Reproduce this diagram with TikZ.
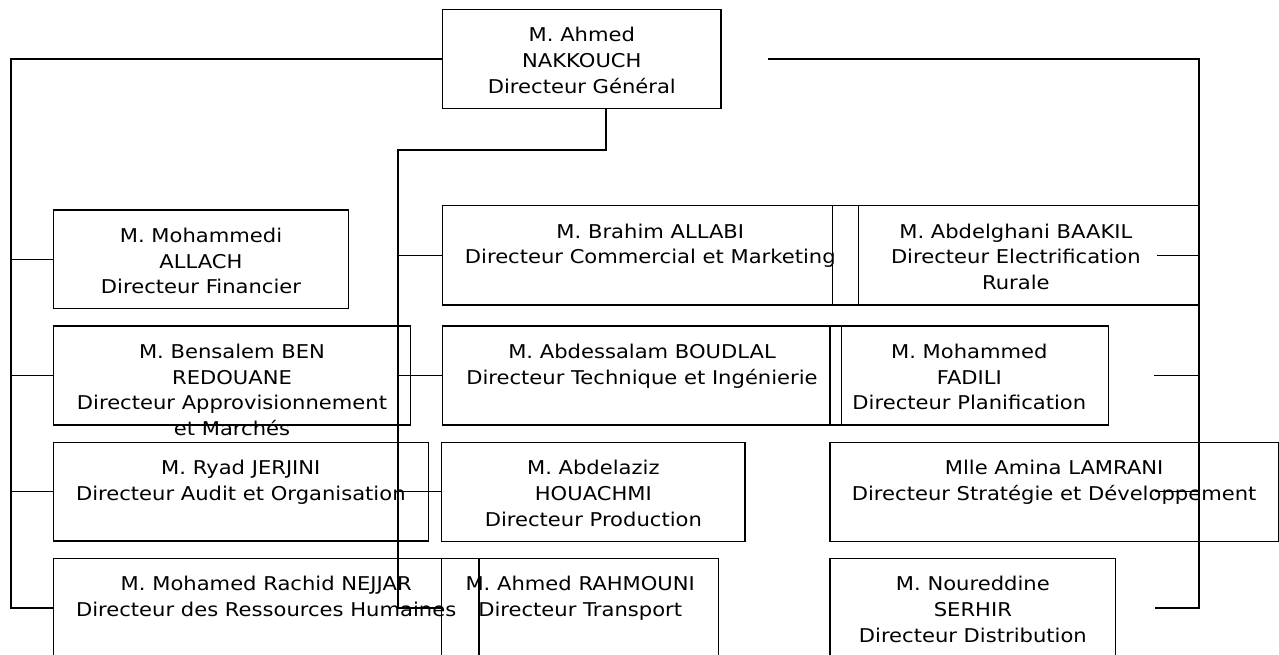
\documentclass[tikz,border=0pt]{standalone}
\usepackage{fontspec}
\newfontfamily\vfont{DejaVu Sans}[FakeStretch=1.11]
\newcommand\fst{\rule{0pt}{15pt}}
\newcommand\orgbox[6]{%
  \node[box,minimum width={(#4-#2)*1pt},minimum height={(#5-#3)*1pt}] (#1) at (#2,#3) {};
  \node[txt] (#1t) at ({(#2+#4)/2},{#3+17.5}) {\fst #6};}
\begin{document}
\begin{tikzpicture}[x=1pt,y=-1pt,
  box/.style={draw,line width=1.2pt,inner sep=0pt,outer sep=0pt,anchor=north west},
  txt/.style={inner sep=0pt,outer sep=0pt,anchor=north,align=center,font=\vfont\fontsize{19}{25.7}\selectfont},
  trunk/.style={line width=2pt},
  stub/.style={line width=1.3pt}]
\useasboundingbox (0,0) rectangle (1279,655);
\clip (0,0) rectangle (1279,655);
% boxes
\orgbox{top}{442.7}{9.3}{721}{108.3}{M. Ahmed\\NAKKOUCH\\Directeur Général}
\orgbox{fin}{53.3}{210}{348.7}{308.7}{M. Mohammedi\\ALLACH\\Directeur Financier}
\orgbox{ben}{53.3}{326}{410.7}{425}{M. Bensalem BEN\\REDOUANE\\Directeur Approvisionnement\\et Marchés}
\orgbox{jer}{53.3}{442.3}{428.3}{541}{M. Ryad JERJINI\\Directeur Audit et Organisation}
\orgbox{nej}{53.3}{558.3}{479}{657.3}{M. Mohamed Rachid NEJJAR\\Directeur des Ressources Humaines}
\orgbox{com}{442.3}{205.7}{858.3}{305}{M. Brahim ALLABI\\Directeur Commercial et Marketing}
\orgbox{tec}{442.3}{326}{841.7}{425}{M. Abdessalam BOUDLAL\\Directeur Technique et Ingénierie}
\orgbox{pro}{441.7}{442.3}{745}{541.3}{M. Abdelaziz\\HOUACHMI\\Directeur Production}
\orgbox{tra}{441.7}{558.3}{718.7}{657.3}{M. Ahmed RAHMOUNI\\Directeur Transport}
\orgbox{baa}{832.3}{205.7}{1199.3}{305}{M. Abdelghani BAAKIL\\Directeur Electrification\\Rurale}
\orgbox{fad}{830}{326}{1108.7}{425}{M. Mohammed\\FADILI\\Directeur Planification}
\orgbox{lam}{830}{442.3}{1278.3}{541.3}{Mlle Amina LAMRANI\\Directeur Stratégie et Développement}
\orgbox{ser}{830}{558.3}{1115.7}{657.3}{M. Noureddine\\SERHIR\\Directeur Distribution}
% left trunk
\draw[trunk] (top.west) -| (11,0 |- nej.west) -- (nej.west);
\draw[stub] (11,0 |- fin.west) -- (fin.west);
\draw[stub] (11,0 |- ben.west) -- (ben.west);
\draw[stub] (11,0 |- jer.west) -- (jer.west);
% centre trunk
\draw[trunk] (605.7,0 |- top.south) |- (398.3,150) |- (tra.west);
\draw[stub] (398.3,0 |- com.west) -- (com.west);
\draw[stub] (398.3,0 |- tec.west) -- (tec.west);
\draw[stub] (398.3,0 |- pro.west) -- (pro.west);
% right trunk
\coordinate (rs) at (767.8,59.3);
\coordinate (re) at (1155,0 |- ser.east);
\draw[trunk] (rs) -| (1199.3,0 |- ser.east) -- (re);
\coordinate (rb) at (1157,0 |- baa.east);
\coordinate (rf) at (1154,0 |- fad.east);
\coordinate (rl) at (1155,0 |- lam.east);
\draw[stub] (baa.east) -- (rb);
\draw[stub] (1199.3,0 |- fad.east) -- (rf);
\draw[stub] (1199.3,0 |- lam.east) -- (rl);
\end{tikzpicture}
\end{document}
